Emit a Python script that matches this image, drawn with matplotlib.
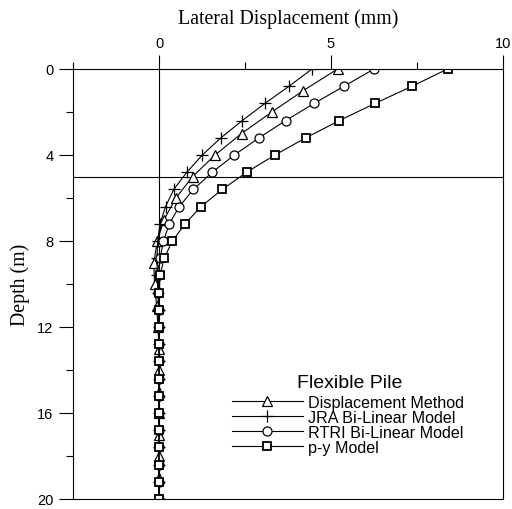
import numpy as np
import matplotlib
matplotlib.use("Agg")
import matplotlib.pyplot as plt
from matplotlib.ticker import MultipleLocator

# Data (depth in m, lateral displacement in mm)
depth_1m = np.arange(0, 21, 1.0)
depth_08 = np.arange(26) * 0.8

disp_method = [5.19, 4.20, 3.28, 2.40, 1.63, 0.98, 0.49, 0.15, -0.05, -0.15, -0.13,
               -0.07, -0.03, 0.0, 0.0, 0.0, 0.0, 0.0, 0.0, 0.0, 0.0]
jra_bilinear = [4.45, 3.78, 3.08, 2.42, 1.80, 1.26, 0.81, 0.43, 0.19, 0.03, -0.04, -0.06, -0.05,
                -0.03, -0.01, 0.0, 0.0, 0.0, 0.0, 0.0, 0.0, 0.0, 0.0, 0.0, 0.0, 0.0]
rtri_bilinear = [6.25, 5.38, 4.51, 3.68, 2.91, 2.19, 1.55, 1.00, 0.59, 0.30, 0.13, 0.03, -0.01,
                 -0.02, -0.01, 0.0, 0.0, 0.0, 0.0, 0.0, 0.0, 0.0, 0.0, 0.0, 0.0, 0.0]
py_model = [8.39, 7.36, 6.28, 5.24, 4.27, 3.37, 2.55, 1.84, 1.22, 0.76, 0.39, 0.15, 0.03,
            0.01, 0.0, 0.0, 0.0, 0.0, 0.0, 0.0, 0.0, 0.0, 0.0, 0.0, 0.0, 0.0]

plt.rcParams['font.family'] = ['Liberation Sans', 'DejaVu Sans']
serif = ['Liberation Serif', 'DejaVu Serif']

fig = plt.figure(figsize=(5.12, 5.10), dpi=100)
ax = fig.add_axes([73/512, 1 - 500/510, 430/512, 430/510])

lw = 0.8
mk = dict(color='black', lw=lw, markerfacecolor='white', markeredgecolor='black')
ax.plot(disp_method, depth_1m, marker='^', ms=6.5, mew=0.9, label='Displacement Method', **mk)
ax.plot(jra_bilinear, depth_08, marker='+', ms=8, mew=0.9, label='JRA Bi-Linear Model', **mk)
ax.plot(rtri_bilinear, depth_08, marker='o', ms=6.5, mew=0.9, label='RTRI Bi-Linear Model', **mk)
ax.plot(py_model, depth_08, marker='s', ms=5.5, mew=1.3, label='p-y Model', **mk)

# reference lines
ax.axvline(0, color='black', lw=0.8, zorder=0)
ax.axhline(5, color='black', lw=0.8, zorder=0)

ax.set_xlim(-2.5, 10)
ax.set_ylim(20, 0)

ax.xaxis.tick_top()
ax.xaxis.set_label_position('top')
ax.xaxis.set_major_locator(MultipleLocator(5))
ax.xaxis.set_minor_locator(MultipleLocator(2.5))
ax.yaxis.set_major_locator(MultipleLocator(4))
ax.yaxis.set_minor_locator(MultipleLocator(2))
ax.tick_params(which='major', length=10, width=0.8, labelsize=10.5, pad=4)
ax.tick_params(which='minor', length=5, width=0.8)

for s in ax.spines.values():
    s.set_linewidth(0.8)

ax.set_xlabel('Lateral Displacement (mm)', family=serif, fontsize=14.3, labelpad=9)
ax.set_ylabel('Depth (m)', family=serif, fontsize=14.3, labelpad=5)

# legend title drawn separately to get the wider gap
fig.text(350/512, 1 - 384/510, 'Flexible Pile', fontsize=14, ha='center', va='center')
leg = ax.legend(loc='upper left', bbox_to_anchor=(232/512, 1 - 396/510),
                bbox_transform=fig.transFigure, frameon=False,
                fontsize=11.6, handlelength=4.4, handletextpad=0.3,
                labelspacing=0.0, borderpad=0, borderaxespad=0)

plt.savefig('out.png', dpi=100)
